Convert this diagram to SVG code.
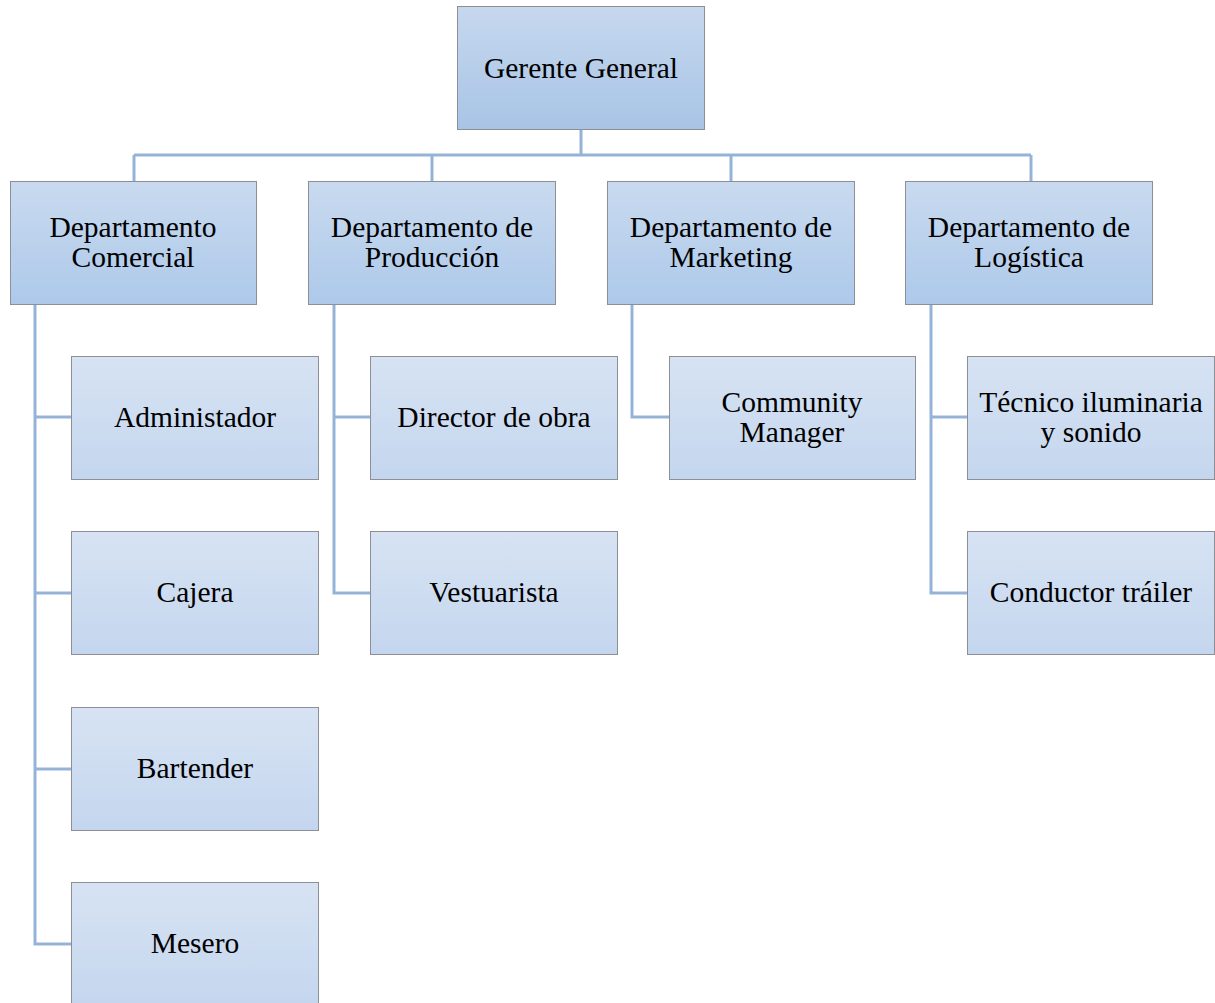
<svg xmlns="http://www.w3.org/2000/svg" width="1215" height="1003" viewBox="0 0 1215 1003">
<style>
.box{stroke:#8c9096;stroke-width:1}
.t{font-family:"Liberation Serif","Times New Roman",serif;font-size:29.5px;fill:#000;text-anchor:middle}
.c{fill:none;stroke:#95b3d7;stroke-width:3}
</style>
<defs>
<linearGradient id="g0" x1="0" y1="0" x2="0" y2="1"><stop offset="0" stop-color="#c6d8ee"/><stop offset="1" stop-color="#a8c4e6"/></linearGradient>
<linearGradient id="g1" x1="0" y1="0" x2="0" y2="1"><stop offset="0" stop-color="#c9daef"/><stop offset="1" stop-color="#adc9ea"/></linearGradient>
<linearGradient id="g2" x1="0" y1="0" x2="0" y2="1"><stop offset="0" stop-color="#d7e3f3"/><stop offset="1" stop-color="#c4d6ee"/></linearGradient>
</defs>
<rect width="1215" height="1003" fill="#fff"/>
<g id="connectors">
<path class="c" d="M581 129V155" stroke-width="4"/>
<path class="c" d="M134 155H1031M134 155V181M432 155V181M731 155V181M1031 155V181"/>
<path class="c" d="M35 304V944H71M35 417H71M35 593H71M35 769H71"/>
<path class="c" d="M334 304V593H370M334 417H370"/>
<path class="c" d="M632 304V417H669"/>
<path class="c" d="M931 304V593H967M931 417H967"/>
</g>
<g id="gerente"><rect class="box" x="457.5" y="6.5" width="247" height="123" fill="url(#g0)"/><text class="t" x="581" y="78">Gerente General</text></g>
<g id="comercial"><rect class="box" x="10.5" y="181.5" width="246" height="123" fill="url(#g1)"/><text class="t" x="133" y="237">Departamento</text><text class="t" x="133" y="267">Comercial</text></g>
<g id="produccion"><rect class="box" x="308.5" y="181.5" width="247" height="123" fill="url(#g1)"/><text class="t" x="432" y="237">Departamento de</text><text class="t" x="432" y="267">Producción</text></g>
<g id="marketing"><rect class="box" x="607.5" y="181.5" width="247" height="123" fill="url(#g1)"/><text class="t" x="731" y="237">Departamento de</text><text class="t" x="731" y="267">Marketing</text></g>
<g id="logistica"><rect class="box" x="905.5" y="181.5" width="247" height="123" fill="url(#g1)"/><text class="t" x="1029" y="237">Departamento de</text><text class="t" x="1029" y="267">Logística</text></g>
<g id="administador"><rect class="box" x="71.5" y="356.5" width="247" height="123" fill="url(#g2)"/><text class="t" x="195" y="427">Administador</text></g>
<g id="cajera"><rect class="box" x="71.5" y="531.5" width="247" height="123" fill="url(#g2)"/><text class="t" x="195" y="602">Cajera</text></g>
<g id="bartender"><rect class="box" x="71.5" y="707.5" width="247" height="123" fill="url(#g2)"/><text class="t" x="195" y="778">Bartender</text></g>
<g id="mesero"><rect class="box" x="71.5" y="882.5" width="247" height="123" fill="url(#g2)"/><text class="t" x="195" y="953">Mesero</text></g>
<g id="director"><rect class="box" x="370.5" y="356.5" width="247" height="123" fill="url(#g2)"/><text class="t" x="494" y="427">Director de obra</text></g>
<g id="vestuarista"><rect class="box" x="370.5" y="531.5" width="247" height="123" fill="url(#g2)"/><text class="t" x="494" y="602">Vestuarista</text></g>
<g id="community"><rect class="box" x="669.5" y="356.5" width="246" height="123" fill="url(#g2)"/><text class="t" x="792" y="412">Community</text><text class="t" x="792" y="442">Manager</text></g>
<g id="tecnico"><rect class="box" x="967.5" y="356.5" width="247" height="123" fill="url(#g2)"/><text class="t" x="1091" y="412">Técnico iluminaria</text><text class="t" x="1091" y="442">y sonido</text></g>
<g id="conductor"><rect class="box" x="967.5" y="531.5" width="247" height="123" fill="url(#g2)"/><text class="t" x="1091" y="602">Conductor tráiler</text></g>
</svg>
